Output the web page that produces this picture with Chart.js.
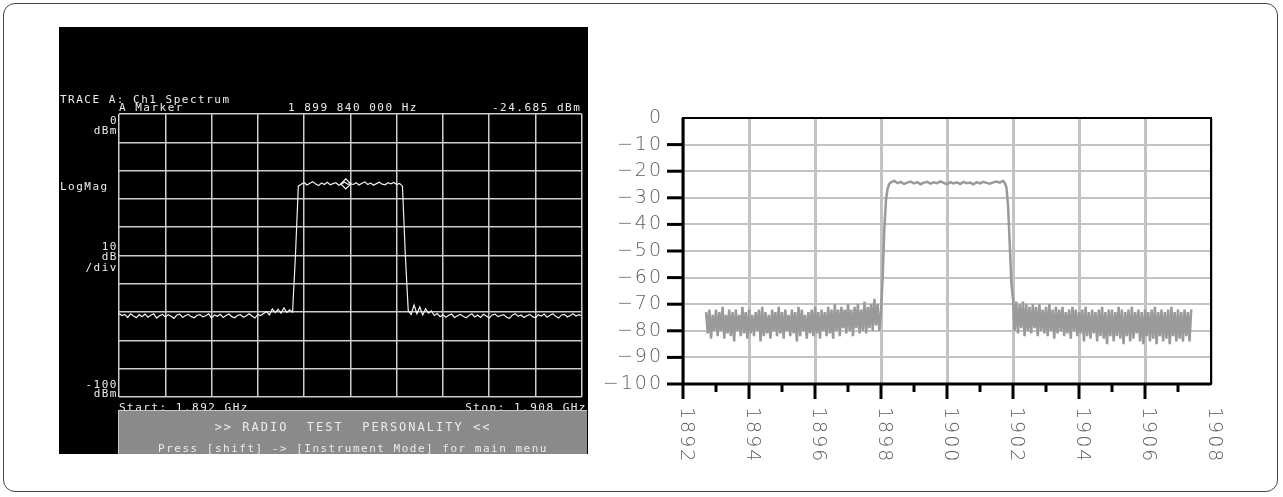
<!DOCTYPE html>
<html lang="en">
<head>
  <meta charset="UTF-8">
  <title>Ch1 Spectrum: analyzer screen and plotted trace</title>
  <script src="https://cdn.jsdelivr.net/npm/chart.js"></script>
  <style>
    body { margin: 0; padding: 0; background: #fff; width: 1283px; height: 497px; position: relative; overflow: hidden; }
    #marco { position: absolute; left: 3px; top: 3px; width: 1273px; height: 487px; border: 1.5px solid #444; border-radius: 12px; }
    #pantalla { position: absolute; left: 59px; top: 27px; background: #000; }
    #grafico { position: absolute; left: 580px; top: 95px; }
    .txt { position: absolute; color: #ececec; font-family: "DejaVu Sans Mono", monospace; font-size: 11px; line-height: 11px; letter-spacing: 1.5px; white-space: pre; }
    .der { text-align: right; width: 60px; left: 58px; }
    #caja { position: absolute; left: 118px; top: 410px; width: 468px; height: 43px; background: #8a8a8a; border-top: 1px solid #c8c8c8; border-left: 1px solid #c8c8c8; }
    #caja .txt { left: 0; width: 468px; text-align: center; }
  </style>
</head>
<body>
  <div id="marco"></div>
  <canvas id="pantalla" width="529" height="427"></canvas>
  <canvas id="grafico" width="690" height="390"></canvas>

  <div class="txt" style="left:60px; top:94px;">TRACE A: Ch1 Spectrum</div>
  <div class="txt" style="left:119px; top:102px;">A Marker</div>
  <div class="txt" style="left:288px; top:102px;">1 899 840 000 Hz</div>
  <div class="txt" style="left:492px; top:102px;">-24.685 dBm</div>
  <div class="txt der" style="top:115px;">0</div>
  <div class="txt der" style="top:125px;">dBm</div>
  <div class="txt" style="left:60px; top:181px;">LogMag</div>
  <div class="txt der" style="top:241px;">10</div>
  <div class="txt der" style="top:251px;">dB</div>
  <div class="txt der" style="top:262px;">/div</div>
  <div class="txt der" style="top:379px;">-100</div>
  <div class="txt der" style="top:388px;">dBm</div>
  <div class="txt" style="left:119px; top:402px;">Start: 1.892 GHz</div>
  <div class="txt" style="left:456px; top:402px; width:131px; text-align:right;">Stop: 1.908 GHz</div>
  <div id="caja">
    <div class="txt" style="top:10px; font-size:12px; line-height:12px; letter-spacing:2px;">&gt;&gt; RADIO  TEST  PERSONALITY &lt;&lt;</div>
    <div class="txt" style="top:32px;">Press [shift] -&gt; [Instrument Mode] for main menu</div>
  </div>

  <script>
    // Pantalla del analizador: frecuencias (MHz) y nivel (dBm)
    var frecPantalla = [
      1892.0, 1892.1, 1892.2, 1892.3, 1892.4, 1892.5, 1892.6, 1892.7, 1892.8, 1892.9,
      1893.0, 1893.1, 1893.2, 1893.3, 1893.4, 1893.5, 1893.6, 1893.7, 1893.8, 1893.9,
      1894.0, 1894.1, 1894.2, 1894.3, 1894.4, 1894.5, 1894.6, 1894.7, 1894.8, 1894.9,
      1895.0, 1895.1, 1895.2, 1895.3, 1895.4, 1895.5, 1895.6, 1895.7, 1895.8, 1895.9,
      1896.0, 1896.1, 1896.2, 1896.3, 1896.4, 1896.5, 1896.6, 1896.7, 1896.8, 1896.9,
      1897.0, 1897.1, 1897.2, 1897.3, 1897.4, 1897.5, 1897.6, 1897.7, 1897.8, 1897.9,
      1898.0, 1898.1, 1898.2, 1898.3, 1898.4, 1898.5, 1898.6, 1898.7, 1898.8, 1898.9,
      1899.0, 1899.1, 1899.2, 1899.3, 1899.4, 1899.5, 1899.6, 1899.7, 1899.8, 1899.9,
      1900.0, 1900.1, 1900.2, 1900.3, 1900.4, 1900.5, 1900.6, 1900.7, 1900.8, 1900.9,
      1901.0, 1901.1, 1901.2, 1901.3, 1901.4, 1901.5, 1901.6, 1901.7, 1901.8, 1901.9,
      1902.0, 1902.1, 1902.2, 1902.3, 1902.4, 1902.5, 1902.6, 1902.7, 1902.8, 1902.9,
      1903.0, 1903.1, 1903.2, 1903.3, 1903.4, 1903.5, 1903.6, 1903.7, 1903.8, 1903.9,
      1904.0, 1904.1, 1904.2, 1904.3, 1904.4, 1904.5, 1904.6, 1904.7, 1904.8, 1904.9,
      1905.0, 1905.1, 1905.2, 1905.3, 1905.4, 1905.5, 1905.6, 1905.7, 1905.8, 1905.9,
      1906.0, 1906.1, 1906.2, 1906.3, 1906.4, 1906.5, 1906.6, 1906.7, 1906.8, 1906.9,
      1907.0, 1907.1, 1907.2, 1907.3, 1907.4, 1907.5, 1907.6, 1907.7, 1907.8, 1907.9,
      1908.0
    ];
    var nivelPantalla = [
      -70.5, -71.2, -70.8, -71.9, -70.6, -71.4, -72.0, -70.9, -71.6, -70.7,
      -71.8, -71.1, -70.6, -72.1, -71.3, -70.8, -71.7, -70.9, -71.5, -72.2,
      -71.0, -70.7, -71.9, -71.2, -70.8, -71.6, -72.0, -71.1, -70.9, -71.7,
      -71.3, -70.6, -72.1, -71.0, -71.5, -70.8, -71.9, -71.2, -70.7, -71.6,
      -72.0, -71.1, -70.9, -71.8, -71.3, -70.6, -71.4, -72.1, -70.8, -71.2,
      -70.5, -69.8, -71.0, -68.9, -70.2, -69.0, -70.4, -68.5, -70.1, -69.2,
      -70.0, -50.0, -25.5, -24.8, -24.2, -25.1, -24.5, -23.9, -24.7, -25.3,
      -24.4, -24.9, -24.1, -25.0, -24.6, -24.3, -25.2, -24.7, -24.0, -24.8,
      -24.7, -24.9, -24.3, -25.1, -24.5, -24.0, -24.9, -24.4, -25.2, -24.6,
      -24.1, -24.8, -25.0, -24.3, -24.7, -24.2, -24.9, -24.5, -25.5, -50.0,
      -69.5, -70.8, -67.5, -70.6, -68.2, -71.0, -68.8, -70.4, -69.6, -71.2,
      -70.5, -71.6, -70.9, -71.8, -71.1, -70.7, -71.9, -71.3, -70.8, -71.5,
      -72.0, -71.2, -70.6, -71.7, -71.0, -71.9, -70.8, -71.4, -72.1, -71.0,
      -70.7, -71.6, -71.2, -70.9, -71.8, -72.2, -71.1, -70.6, -71.5, -71.0,
      -71.9, -71.3, -70.8, -71.6, -72.0, -70.9, -71.4, -70.7, -71.8, -71.1,
      -70.6, -71.5, -72.1, -71.0, -70.8, -71.7, -71.2, -70.6, -71.4, -70.9,
      -71.3
    ];
    var marcadorFrec = [1899.84];
    var marcadorNivel = [-24.685];

    // Grafico de la derecha: frecuencias (MHz) y nivel (dB)
    var frecGrafico = [
      1892.70, 1892.75, 1892.80, 1892.85, 1892.90, 1892.95,
      1893.00, 1893.05, 1893.10, 1893.15, 1893.20, 1893.25, 1893.30, 1893.35, 1893.40, 1893.45,
      1893.50, 1893.55, 1893.60, 1893.65, 1893.70, 1893.75, 1893.80, 1893.85, 1893.90, 1893.95,
      1894.00, 1894.05, 1894.10, 1894.15, 1894.20, 1894.25, 1894.30, 1894.35, 1894.40, 1894.45,
      1894.50, 1894.55, 1894.60, 1894.65, 1894.70, 1894.75, 1894.80, 1894.85, 1894.90, 1894.95,
      1895.00, 1895.05, 1895.10, 1895.15, 1895.20, 1895.25, 1895.30, 1895.35, 1895.40, 1895.45,
      1895.50, 1895.55, 1895.60, 1895.65, 1895.70, 1895.75, 1895.80, 1895.85, 1895.90, 1895.95,
      1896.00, 1896.05, 1896.10, 1896.15, 1896.20, 1896.25, 1896.30, 1896.35, 1896.40, 1896.45,
      1896.50, 1896.55, 1896.60, 1896.65, 1896.70, 1896.75, 1896.80, 1896.85, 1896.90, 1896.95,
      1897.00, 1897.05, 1897.10, 1897.15, 1897.20, 1897.25, 1897.30, 1897.35, 1897.40, 1897.45,
      1897.50, 1897.55, 1897.60, 1897.65, 1897.70, 1897.75, 1897.80, 1897.85, 1897.90, 1897.95,
      1898.00, 1898.05, 1898.10, 1898.15, 1898.20, 1898.25,
      1898.3, 1898.4, 1898.5, 1898.6, 1898.7, 1898.8, 1898.9,
      1899.0, 1899.1, 1899.2, 1899.3, 1899.4, 1899.5, 1899.6, 1899.7, 1899.8, 1899.9,
      1900.0, 1900.1, 1900.2, 1900.3, 1900.4, 1900.5, 1900.6, 1900.7, 1900.8, 1900.9,
      1901.0, 1901.1, 1901.2, 1901.3, 1901.4, 1901.5, 1901.6, 1901.7,
      1901.75, 1901.80, 1901.85, 1901.90, 1901.95,
      1902.00, 1902.05, 1902.10, 1902.15, 1902.20, 1902.25, 1902.30, 1902.35, 1902.40, 1902.45,
      1902.50, 1902.55, 1902.60, 1902.65, 1902.70, 1902.75, 1902.80, 1902.85, 1902.90, 1902.95,
      1903.00, 1903.05, 1903.10, 1903.15, 1903.20, 1903.25, 1903.30, 1903.35, 1903.40, 1903.45,
      1903.50, 1903.55, 1903.60, 1903.65, 1903.70, 1903.75, 1903.80, 1903.85, 1903.90, 1903.95,
      1904.00, 1904.05, 1904.10, 1904.15, 1904.20, 1904.25, 1904.30, 1904.35, 1904.40, 1904.45,
      1904.50, 1904.55, 1904.60, 1904.65, 1904.70, 1904.75, 1904.80, 1904.85, 1904.90, 1904.95,
      1905.00, 1905.05, 1905.10, 1905.15, 1905.20, 1905.25, 1905.30, 1905.35, 1905.40, 1905.45,
      1905.50, 1905.55, 1905.60, 1905.65, 1905.70, 1905.75, 1905.80, 1905.85, 1905.90, 1905.95,
      1906.00, 1906.05, 1906.10, 1906.15, 1906.20, 1906.25, 1906.30, 1906.35, 1906.40, 1906.45,
      1906.50, 1906.55, 1906.60, 1906.65, 1906.70, 1906.75, 1906.80, 1906.85, 1906.90, 1906.95,
      1907.00, 1907.05, 1907.10, 1907.15, 1907.20, 1907.25, 1907.30, 1907.35, 1907.40
    ];
    var nivelGrafico = [
      -73, -81, -72, -83, -74, -80,
      -72, -82, -73, -80, -71, -83, -74, -81, -72, -82,
      -73, -84, -72, -80, -74, -82, -71, -81, -73, -83,
      -72, -81, -74, -82, -73, -80, -72, -84, -71, -82,
      -73, -81, -74, -83, -72, -80, -73, -82, -71, -81,
      -73, -83, -72, -80, -74, -82, -72, -81, -73, -84,
      -71, -82, -72, -80, -74, -83, -73, -81, -72, -82,
      -71, -81, -73, -83, -72, -80, -73, -82, -71, -81,
      -72, -83, -70, -80, -72, -82, -71, -79, -72, -81,
      -70, -80, -72, -82, -71, -79, -70, -81, -72, -80,
      -69, -81, -71, -79, -70, -80, -68, -78, -70, -80,
      -73, -60, -42, -31, -26.5, -24.8,
      -24.2, -23.6, -24.5, -24.0, -24.8, -24.3, -23.9,
      -24.6, -24.1, -24.9, -24.3, -24.0, -24.7, -24.2, -24.5, -23.8, -24.4,
      -24.9, -24.1, -24.6, -24.2, -24.8, -24.0, -24.5, -24.3, -24.9, -24.1,
      -24.6, -24.0, -24.4, -24.7, -24.2, -23.9, -24.3, -23.6,
      -24.5, -26, -33, -47, -62,
      -68, -80, -69, -81, -70, -79, -69, -82, -70, -80,
      -71, -81, -70, -79, -71, -82, -70, -80, -72, -81,
      -71, -82, -70, -80, -72, -83, -71, -81, -72, -80,
      -71, -82, -73, -81, -72, -83, -71, -80, -72, -82,
      -73, -81, -72, -84, -71, -82, -73, -83, -72, -81,
      -73, -84, -72, -82, -71, -83, -73, -85, -72, -82,
      -72, -84, -73, -82, -71, -83, -72, -85, -73, -82,
      -72, -84, -71, -83, -73, -81, -72, -84, -73, -85,
      -72, -82, -73, -84, -72, -83, -71, -85, -73, -82,
      -72, -84, -73, -83, -72, -85, -71, -82, -73, -84,
      -72, -83, -73, -84, -72, -82, -73, -84, -72
    ];

    // Ejes del grafico de la derecha
    var ticksY = [0, -10, -20, -30, -40, -50, -60, -70, -80, -90, -100];
    var etiquetasY = ['0', '\u221210', '\u221220', '\u221230', '\u221240', '\u221250', '\u221260', '\u221270', '\u221280', '\u221290', '\u2212100'];
    var ticksXMayor = [1892, 1894, 1896, 1898, 1900, 1902, 1904, 1906, 1908];
    var etiquetasX = ['1892', '1894', '1896', '1898', '1900', '1902', '1904', '1906', '1908'];
    var ticksXMenor = [1893, 1895, 1897, 1899, 1901, 1903, 1905, 1907];

    function puntos(frec, niveles) {
      return frec.map(function(f, i) { return { x: f, y: niveles[i] }; });
    }

    // Pantalla del analizador
    new Chart(document.getElementById('pantalla'), {
      type: 'line',
      data: {
        datasets: [
          { data: puntos(frecPantalla, nivelPantalla), borderColor: '#f2f2f2', borderWidth: 1.2, pointRadius: 0, tension: 0 },
          { data: puntos(marcadorFrec, marcadorNivel), showLine: false, pointStyle: 'rectRot',
            pointRadius: 5, borderColor: '#ffffff', borderWidth: 1.2, backgroundColor: 'rgba(0,0,0,0)' }
        ]
      },
      options: {
        responsive: false,
        animation: false,
        events: [],
        plugins: { legend: { display: false }, tooltip: { enabled: false } },
        layout: { padding: { left: 60, top: 87, right: 4, bottom: 57 } },
        scales: {
          x: { type: 'linear', min: 1892, max: 1908, ticks: { display: false, stepSize: 1.6 },
               grid: { color: '#cdcdcd', lineWidth: 1.5, drawTicks: false }, border: { display: false } },
          y: { type: 'linear', min: -100, max: 0, ticks: { display: false, stepSize: 10 },
               grid: { color: '#cdcdcd', lineWidth: 1.5, drawTicks: false }, border: { display: false } }
        }
      }
    });

    // Marco, marcas y etiquetas del grafico de la derecha
    var ejesPlugin = {
      id: 'ejes',
      afterDraw: function(chart) {
        var ctx = chart.ctx, a = chart.chartArea;
        var xs = chart.scales.x, ys = chart.scales.y;
        ctx.save();
        ctx.strokeStyle = '#000';
        ctx.lineWidth = 2;
        ctx.strokeRect(a.left, a.top, a.right - a.left, a.bottom - a.top);
        ctx.lineWidth = 3;
        ctx.beginPath();
        ctx.moveTo(a.left, a.top);
        ctx.lineTo(a.left, a.bottom);
        ctx.lineTo(a.right, a.bottom);
        ctx.stroke();

        ctx.font = '200 19px "DejaVu Sans"';
        ctx.fillStyle = '#5e5e5e';
        ctx.letterSpacing = '2px';

        ticksY.forEach(function(v, i) {
          var y = ys.getPixelForValue(v);
          if (v < 0) {
            ctx.beginPath();
            ctx.moveTo(a.left - 16, y);
            ctx.lineTo(a.left, y);
            ctx.stroke();
          }
          ctx.textAlign = 'right';
          ctx.textBaseline = 'middle';
          ctx.fillText(etiquetasY[i], a.left - 20, y);
        });

        ticksXMayor.forEach(function(v, i) {
          var x = xs.getPixelForValue(v);
          if (v < 1908) {
            ctx.beginPath();
            ctx.moveTo(x, a.bottom);
            ctx.lineTo(x, a.bottom + 15);
            ctx.stroke();
          }
          ctx.save();
          ctx.translate(x + 3, a.bottom + 23);
          ctx.rotate(Math.PI / 2);
          ctx.textAlign = 'left';
          ctx.textBaseline = 'middle';
          ctx.fillText(etiquetasX[i], 0, 0);
          ctx.restore();
        });

        ticksXMenor.forEach(function(v) {
          var x = xs.getPixelForValue(v);
          ctx.beginPath();
          ctx.moveTo(x, a.bottom);
          ctx.lineTo(x, a.bottom + 8);
          ctx.stroke();
        });
        ctx.restore();
      }
    };

    new Chart(document.getElementById('grafico'), {
      type: 'line',
      data: {
        datasets: [
          { data: puntos(frecGrafico, nivelGrafico), borderColor: '#9a9a9a', borderWidth: 2.5, pointRadius: 0, tension: 0 }
        ]
      },
      options: {
        responsive: false,
        animation: false,
        events: [],
        plugins: { legend: { display: false }, tooltip: { enabled: false } },
        layout: { padding: { left: 103, top: 23, right: 59, bottom: 101 } },
        scales: {
          x: { type: 'linear', min: 1892, max: 1908, ticks: { display: false, stepSize: 2 },
               grid: { color: '#c3c3c3', lineWidth: 3, drawTicks: false }, border: { display: false } },
          y: { type: 'linear', min: -100, max: 0, ticks: { display: false, stepSize: 10 },
               grid: { color: '#c3c3c3', lineWidth: 2, drawTicks: false }, border: { display: false } }
        }
      },
      plugins: [ejesPlugin]
    });
  </script>
</body>
</html>
